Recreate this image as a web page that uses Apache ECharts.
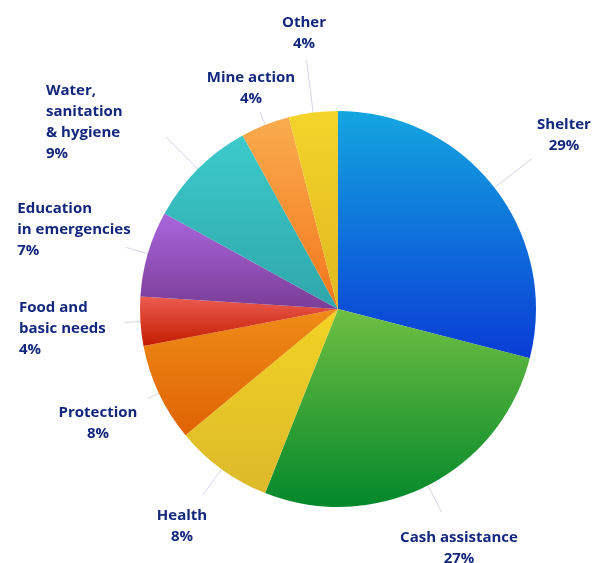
<!DOCTYPE html>
<html>
<head>
<meta charset="utf-8">
<script src="https://cdn.jsdelivr.net/npm/echarts@6/dist/echarts.min.js"></script>
<style>
  html, body { margin: 0; padding: 0; background: #ffffff; }
  #chart { width: 608px; height: 563px; }
</style>
</head>
<body>
<div id="chart"></div>
<script>
// Categories (label text, line breaks as in the reference)
var categories = [
  'Shelter',
  'Cash assistance',
  'Health',
  'Protection',
  'Food and\nbasic needs',
  'Education\nin emergencies',
  'Water,\nsanitation\n& hygiene',
  'Mine action',
  'Other'
];
// Shares in percent
var shares = [29, 27, 8, 8, 4, 7, 9, 4, 4];

// Styles (gradient top -> bottom per slice)
var gradients = [
  ['#14a6e0', '#0a3cd5'],
  ['#6fbf42', '#03882b'],
  ['#f2d324', '#dcb92a'],
  ['#ee8c16', '#e06204'],
  ['#ec5c50', '#c21c00'],
  ['#aa66de', '#7a3d96'],
  ['#3ccacb', '#2fa6aa'],
  ['#f8ac4e', '#f5761c'],
  ['#f4d42a', '#deb820']
];
// Label line lengths and label placement relative to the line end
var lineLengths = [48, 30, 32, 12, 16, 23, 45, 14, 53];
var labelPlace = [
  ['center', 31.6, -44],
  ['center', 17.5, 15],
  ['center', -20.8, 10.6],
  ['center', -50, 4.3],
  ['left', -105.4, -25.7],
  ['left', -108.5, -49.4],
  ['left', -120.2, -57.2],
  ['center', -9, -44.9],
  ['center', -2.5, -48]
];

var seriesData = categories.map(function (name, i) {
  return {
    name: name,
    value: shares[i],
    itemStyle: {
      color: new echarts.graphic.LinearGradient(0, 0, 0, 1, [
        { offset: 0, color: gradients[i][0] },
        { offset: 1, color: gradients[i][1] }
      ])
    },
    labelLine: { length: lineLengths[i], length2: 0.01 }
  };
});

var chart = echarts.init(document.getElementById('chart'), null, { renderer: 'canvas' });
chart.setOption({
  animation: false,
  backgroundColor: '#ffffff',
  series: [{
    type: 'pie',
    center: [338, 309],
    radius: 198,
    startAngle: 90,
    clockwise: true,
    avoidLabelOverlap: false,
    data: seriesData,
    itemStyle: { borderWidth: 0 },
    emphasis: { disabled: true },
    label: {
      show: true,
      position: 'outside',
      formatter: '{b}\n{c}%',
      color: '#13287d',
      fontFamily: 'Open Sans',
      fontWeight: 'bold',
      fontSize: 15,
      lineHeight: 21
    },
    labelLine: {
      show: true,
      smooth: false,
      lineStyle: { color: '#d3d6e8', width: 1 }
    },
    labelLayout: function (params) {
      var pts = params.labelLinePoints;
      if (!pts) return {};
      var p0 = pts[0], p1 = pts[1];
      var pl = labelPlace[params.dataIndex];
      return {
        x: p1[0] + pl[1],
        y: p1[1] + pl[2],
        align: pl[0],
        verticalAlign: 'top',
        labelLinePoints: [[p0[0], p0[1]], [p1[0], p1[1]], [p1[0], p1[1]]]
      };
    }
  }]
});
</script>
</body>
</html>
